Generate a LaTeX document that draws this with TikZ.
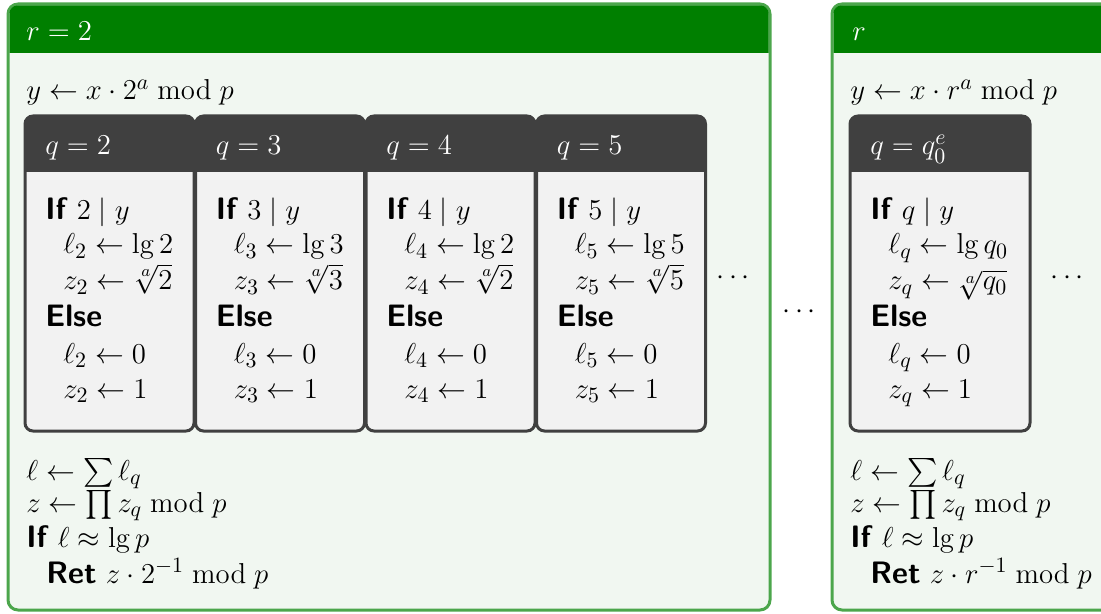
\documentclass[tikz,border=0pt]{standalone}
\usepackage{amsmath}
\usepackage{tikz}

\definecolor{boxframe}{HTML}{4CA64C}
\definecolor{boxhead}{HTML}{007F00}
\definecolor{boxback}{HTML}{F1F7F1}
\definecolor{cellframe}{HTML}{404040}
\definecolor{cellback}{HTML}{F2F2F2}

\newcommand{\kw}[1]{\textsf{\bfseries #1}}

\begin{document}
\begin{tikzpicture}[x=0.5pt, y=-0.5pt,
    txt/.style={anchor=base west, inner sep=0pt, font=\fontsize{15.5}{18}\selectfont},
    headtxt/.style={txt, text=white},
    outerbox/.style={fill=boxback, draw=boxframe, line width=1.5pt, rounded corners=5pt},
    cellbox/.style={fill=cellback, draw=cellframe, line width=1.5pt, rounded corners=4pt}]
  \useasboundingbox (0,0) rectangle (1101,614);
  \clip (0,0) rectangle (1101,614);

  % Box r = 2
  \draw[outerbox] (8,4) rectangle (770,610);
  \fill[boxhead] (9.5,53) [rounded corners=4pt] -- (9.5,5.5) -- (768.5,5.5) [sharp corners] -- (768.5,53) -- cycle;
  \node[headtxt] (r2-title) at (26,41) {$r=2$};
  \node[txt] (r2-y) at (26,100) {$y \leftarrow x\cdot 2^a \bmod p$};

  % Cells q = 2, 3, 4, 5
  \foreach \q/\x/\b in {2/25/2, 3/195.5/3, 4/366/2, 5/536.5/5} {
    \draw[cellbox] (\x,116) rectangle ++(169,315);
    \fill[cellframe] (\x,172) [rounded corners=4pt] -- (\x,116) -- (\x+169,116) [sharp corners] -- (\x+169,172) -- cycle;
    \node[headtxt] (q\q-head) at (\x+20,155) {$q=\q$};
    \node[txt] (q\q-if) at (\x+20,219.5) {\kw{If} $\q\mid y$};
    \node[txt] (q\q-l1) at (\x+38,254) {$\ell_\q \leftarrow \lg \b$};
    \node[txt] (q\q-z1) at (\x+38,290) {$z_\q \leftarrow \sqrt[a]{\b}$};
    \node[txt] (q\q-else) at (\x+20,327) {\kw{Else}};
    \node[txt] (q\q-l0) at (\x+38,363) {$\ell_\q \leftarrow 0$};
    \node[txt] (q\q-z0) at (\x+38,398) {$z_\q \leftarrow 1$};
  }
  \node[txt] (r2-dots) at (716,285) {$\cdots$};

  \node[txt] (r2-sum) at (26,480) {$\ell \leftarrow \sum \ell_q$};
  \node[txt] (r2-prod) at (26,512) {$z \leftarrow \prod z_q \bmod p$};
  \node[txt] (r2-if) at (26,547) {\kw{If} $\ell \approx \lg p$};
  \node[txt] (r2-ret) at (46,583) {\kw{Ret} $z\cdot 2^{-1} \bmod p$};

  % Between the boxes
  \node[txt] (mid-dots) at (782,319) {$\cdots$};

  % Box r
  \draw[outerbox] (832,4) rectangle (1200,610);
  \fill[boxhead] (833.5,53) [rounded corners=4pt] -- (833.5,5.5) -- (1198.5,5.5) [sharp corners] -- (1198.5,53) -- cycle;
  \node[headtxt] (r-title) at (852,41) {$r$};
  \node[txt] (r-y) at (850,100) {$y \leftarrow x\cdot r^a \bmod p$};

  % Cell q = q_0^e
  \draw[cellbox] (850,116) rectangle ++(180,315);
  \fill[cellframe] (850,172) [rounded corners=4pt] -- (850,116) -- (1030,116) [sharp corners] -- (1030,172) -- cycle;
  \node[headtxt] (qe-head) at (870,155) {$q=q_0^e$};
  \node[txt] (qe-if) at (870,219.5) {\kw{If} $q\mid y$};
  \node[txt] (qe-l1) at (888,254) {$\ell_q \leftarrow \lg q_0$};
  \node[txt] (qe-z1) at (888,290) {$z_q \leftarrow \sqrt[a]{q_0}$};
  \node[txt] (qe-else) at (870,327) {\kw{Else}};
  \node[txt] (qe-l0) at (888,363) {$\ell_q \leftarrow 0$};
  \node[txt] (qe-z0) at (888,398) {$z_q \leftarrow 1$};
  \node[txt] (r-dots) at (1050,285) {$\cdots$};

  \node[txt] (r-sum) at (850,480) {$\ell \leftarrow \sum \ell_q$};
  \node[txt] (r-prod) at (850,512) {$z \leftarrow \prod z_q \bmod p$};
  \node[txt] (r-if) at (850,547) {\kw{If} $\ell \approx \lg p$};
  \node[txt] (r-ret) at (870,583) {\kw{Ret} $z\cdot r^{-1} \bmod p$};
\end{tikzpicture}
\end{document}
